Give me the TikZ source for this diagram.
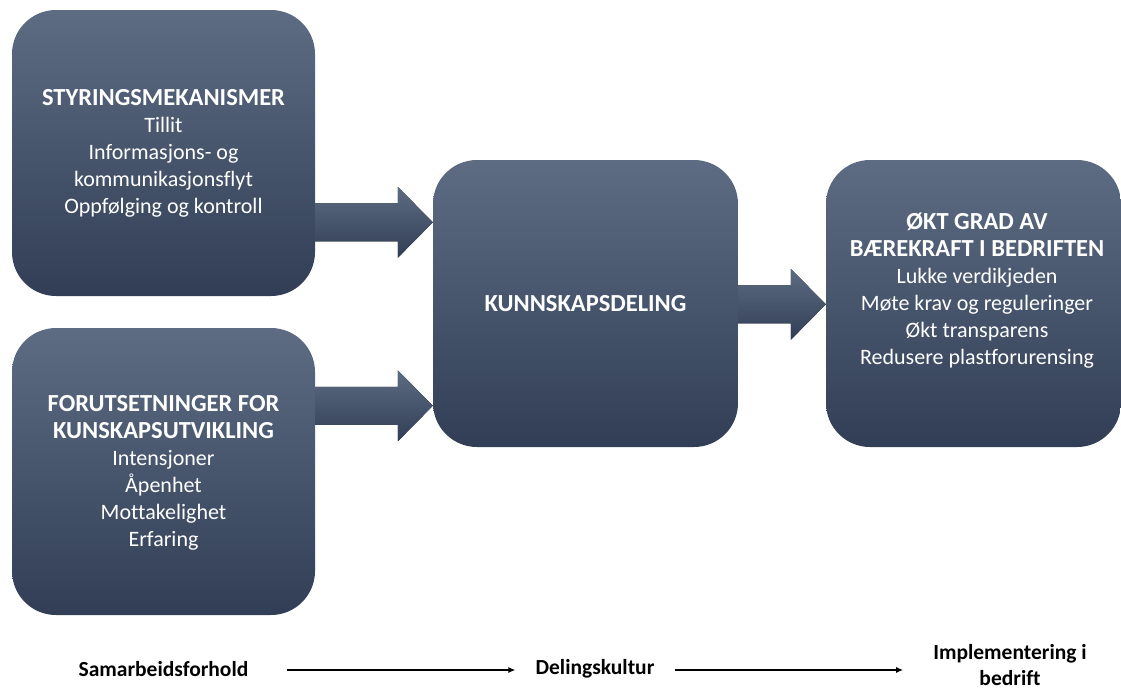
\documentclass[tikz,border=0pt]{standalone}
\usepackage{fontspec}
\setmainfont{Carlito}[Ligatures=NoCommon]
\usetikzlibrary{calc,arrows.meta}
\definecolor{slatetop}{HTML}{5D6C83}
\definecolor{slatebot}{HTML}{313E56}
\tikzset{
  panel/.style={rounded corners=44pt, top color=slatetop, bottom color=slatebot,
    draw=none, inner sep=0pt},
  paneltext/.style={text=white, align=center, inner sep=0pt,
    font=\fontsize{22}{27}\selectfont},
  arrowshade/.style={top color=slatetop, bottom color=slatebot},
  flowlabel/.style={font=\bfseries\fontsize{21.5}{26}\selectfont, align=center, inner sep=0pt},
  thinarrow/.style={-{Latex[length=7pt,width=6pt]}, line width=1.3pt}
}
\newcommand\hd[1]{{\bfseries\fontsize{24.5}{27}\selectfont #1}}
% block arrow: shaft starts at the x of #1, tip at #2
\newcommand\blockarrow[2]{%
  \fill[arrowshade] let \p1=(#1), \p2=(#2) in
    (\x1,\y2+19pt) -- (\x2-35pt,\y2+19pt) -- (\x2-35pt,\y2+35.5pt) -- (\x2,\y2)
    -- (\x2-35pt,\y2-35.5pt) -- (\x2-35pt,\y2-19pt) -- (\x1,\y2-19pt) -- cycle;}
\begin{document}
\begin{tikzpicture}[x=1pt,y=-1pt]
\useasboundingbox (0,0) rectangle (1121,691);

% panels
\node[panel, minimum width=303pt, minimum height=286pt] (gov) at (163.5,153) {};
\node[panel, minimum width=303pt, minimum height=287pt] (pre) at (163.5,471.5) {};
\node[panel, minimum width=305pt, minimum height=287pt] (kd) at (585.5,303.5) {};
\node[panel, minimum width=295pt, minimum height=287pt] (bt) at (973.5,303.5) {};

% panel texts
\node[paneltext] (govtxt) at (gov.center)
  {\hd{STYRINGSMEKANISMER}\\Tillit\\Informasjons- og\\kommunikasjonsflyt\\Oppfølging og kontroll};
\node[paneltext] (pretxt) at ($(pre.center)+(0,1.5)$)
  {\hd{FORUTSETNINGER FOR}\\\hd{KUNSKAPSUTVIKLING}\\Intensjoner\\Åpenhet\\Mottakelighet\\Erfaring};
\node[paneltext] (kdtxt) at (kd.center) {\hd{KUNNSKAPSDELING}};
\node[paneltext] (bttxt) at ($(bt.center)+(3.5,-13)$)
  {\hd{ØKT GRAD AV}\\\hd{BÆREKRAFT I BEDRIFTEN}\\Lukke verdikjeden\\Møte krav og reguleringer\\Økt transparens\\Redusere plastforurensing};

% block arrows between panels
\blockarrow{gov.east}{$(kd.north west)+(0,62.5)$}
\blockarrow{pre.east}{$(kd.north west)+(0,246)$}
\blockarrow{kd.east}{$(bt.north west)+(0,144.5)$}

% bottom flow
\node[flowlabel] (sam) at (163.5,669) {Samarbeidsforhold};
\node[flowlabel] (del) at (595,669) {Delingskultur};
\node[flowlabel] (imp) at (1010,665) {Implementering i\\bedrift};
\draw[thinarrow] ([xshift=38pt,yshift=-1pt]sam.east) -- ([xshift=-20pt,yshift=-1pt]del.west);
\draw[thinarrow] ([xshift=20pt,yshift=-1pt]del.east) -- ([xshift=-30pt,yshift=-1pt]del.east -| imp.west);
\end{tikzpicture}
\end{document}
